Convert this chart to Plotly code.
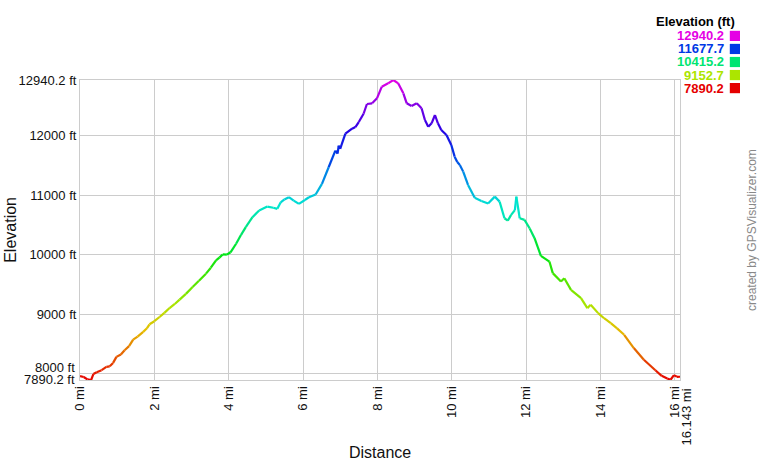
import colorsys
import plotly.graph_objs as go
from plotly.colors import sample_colorscale

# === DATA
dist_mi = [0, 0.1, 0.2, 0.3, 0.36, 0.45, 0.58, 0.71, 0.8, 0.89,
           0.98, 1.1, 1.2, 1.32, 1.43, 1.55, 1.7, 1.8, 1.87, 2.0,
           2.14, 2.27, 2.41, 2.55, 2.68, 2.85, 3.03, 3.2, 3.39, 3.52,
           3.66, 3.75, 3.84, 3.95, 4.05, 4.2, 4.33, 4.46, 4.64, 4.82,
           5.04, 5.2, 5.31, 5.4, 5.5, 5.62, 5.75, 5.89, 6.05, 6.16,
           6.34, 6.51, 6.69, 6.87, 6.93, 6.96, 7.0, 7.14, 7.32, 7.41,
           7.5, 7.63, 7.72, 7.86, 7.99, 8.12, 8.29, 8.43, 8.56, 8.7,
           8.79, 8.92, 9.06, 9.19, 9.28, 9.37, 9.46, 9.55, 9.63, 9.72,
           9.86, 9.99, 10.08, 10.15, 10.22, 10.31, 10.44, 10.62, 10.8, 10.98,
           11.16, 11.29, 11.42, 11.51, 11.6, 11.7, 11.74, 11.83, 11.96, 12.1,
           12.23, 12.4, 12.63, 12.72, 12.94, 13.03, 13.21, 13.48, 13.65, 13.74,
           13.94, 14.1, 14.28, 14.45, 14.64, 14.9, 15.17, 15.48, 15.65, 15.8,
           15.89, 15.98, 16.06, 16.143]
elev_ft = [7955, 7940, 7900, 7890.2, 7990, 8020, 8055, 8111, 8120, 8178,
           8279, 8320, 8391, 8460, 8570, 8620, 8700, 8760, 8828, 8880,
           8951, 9020, 9102, 9170, 9243, 9340, 9455, 9560, 9680, 9780,
           9903, 9950, 10004, 10000, 10040, 10184, 10330, 10463, 10631, 10743,
           10810, 10790, 10771, 10882, 10930, 10967, 10910, 10855, 10920, 10967,
           11012, 11191, 11471, 11752, 11700, 11836, 11780, 12036, 12120, 12148,
           12232, 12372, 12536, 12548, 12632, 12828, 12884, 12940.2, 12884, 12716,
           12548, 12503, 12548, 12464, 12267, 12154, 12211, 12351, 12211, 12099,
           12015, 11846, 11650, 11560, 11510, 11398, 11173, 10960, 10905, 10860,
           10977, 10893, 10613, 10574, 10669, 10750, 10977, 10613, 10585, 10440,
           10277, 9980, 9884, 9689, 9548, 9604, 9408, 9268, 9100, 9156,
           9016, 8930, 8848, 8760, 8651, 8428, 8231, 8055, 7960, 7916,
           7895, 7972, 7944, 7945]

y_ticks = [7890.2, 8000, 9000, 10000, 11000, 12000, 12940.2]
y_labels = ["7890.2 ft", "8000 ft", "9000 ft", "10000 ft", "11000 ft", "12000 ft", "12940.2 ft"]
x_ticks = [0, 2, 4, 6, 8, 10, 12, 14, 16, 16.143]
x_labels = ["0 mi", "2 mi", "4 mi", "6 mi", "8 mi", "10 mi", "12 mi", "14 mi", "16 mi", "16.143 mi"]
legend_vals = [12940.2, 11677.7, 10415.2, 9152.7, 7890.2]

E_MIN, E_MAX = min(elev_ft), max(elev_ft)
FONT = "Arial, Liberation Sans, sans-serif"

# rainbow scale: red (low) -> magenta (high), hue 0..300
scale = []
for i in range(13):
    r, g, b = colorsys.hsv_to_rgb(i / 12 * 300 / 360, 1, 0.9)
    scale.append([i / 12, f"rgb({int(r*255)},{int(g*255)},{int(b*255)})"])


def col(e):
    return sample_colorscale(scale, [(e - E_MIN) / (E_MAX - E_MIN)])[0]


fig = go.Figure()
for i in range(len(dist_mi) - 1):
    fig.add_trace(go.Scatter(x=dist_mi[i:i + 2], y=elev_ft[i:i + 2], mode="lines",
                             line=dict(color=col((elev_ft[i] + elev_ft[i + 1]) / 2), width=2.2),
                             showlegend=False, hoverinfo="skip", cliponaxis=False))

# crowded end labels: the axis keeps the gridlines, the labels get nudged apart
y_text = [t if v not in (y_ticks[0], y_ticks[1]) else "" for v, t in zip(y_ticks, y_labels)]
x_text = x_labels[:-1] + [""]
for v, t, dy in [(y_ticks[0], y_labels[0], 1), (y_ticks[1], y_labels[1], 5.5)]:
    fig.add_annotation(text=t, xref="paper", yref="y", x=0, y=v, xanchor="right", yanchor="middle",
                       xshift=-3, yshift=dy, showarrow=False, font=dict(family=FONT, size=13, color="#111"))
fig.add_annotation(text=x_labels[-1], xref="x", yref="paper", x=x_ticks[-1], y=0, textangle=-90,
                   xanchor="center", yanchor="top", xshift=6, yshift=-7,
                   showarrow=False, font=dict(family=FONT, size=13, color="#111"))

# === LEGEND (annotations + squares)
fig.add_annotation(text="<b>Elevation (ft)</b>", xref="paper", yref="paper", x=1.095, y=1.195,
                   xanchor="right", yanchor="middle", showarrow=False, font=dict(family=FONT, size=13, color="black"))
for k, v in enumerate(legend_vals):
    yp = 1.147 - k * 0.0435
    c = col(v)
    fig.add_annotation(text=f"<b>{v}</b>", xref="paper", yref="paper", x=1.077, y=yp,
                       xanchor="right", yanchor="middle", showarrow=False, font=dict(family=FONT, size=13, color=c))
    fig.add_shape(type="rect", xref="paper", yref="paper", x0=1.083, x1=1.1, y0=yp - 0.017, y1=yp + 0.017,
                  fillcolor=c, line=dict(width=0))

# axis titles + watermark
fig.add_annotation(text="Elevation", xref="paper", yref="paper", x=-0.117, y=0.5, textangle=-90,
                   xanchor="center", yanchor="middle",
                   showarrow=False, font=dict(family=FONT, size=16, color="#111"))
fig.add_annotation(text="Distance", xref="paper", yref="paper", x=0.5, y=-0.24,
                   xanchor="center", yanchor="middle",
                   showarrow=False, font=dict(family=FONT, size=16, color="#111"))
fig.add_annotation(text="created by GPSVisualizer.com", xref="paper", yref="paper", x=1.12, y=0.5, textangle=-90,
                   xanchor="center", yanchor="middle",
                   showarrow=False, font=dict(family=FONT, size=12, color="#888"))

fig.update_layout(
    width=760, height=460, margin=dict(l=80, r=80, t=80, b=80),
    paper_bgcolor="white", plot_bgcolor="white", font=dict(family=FONT, size=13, color="#111"),
    xaxis=dict(range=[0, 16.143], tickvals=x_ticks, ticktext=x_text, tickangle=-90,
               showgrid=True, gridcolor="#cccccc", gridwidth=1, zeroline=False,
               showline=True, linecolor="#cccccc", mirror=True, ticks="", automargin=False),
    yaxis=dict(range=[E_MIN, E_MAX], tickvals=y_ticks, ticktext=y_text,
               showgrid=True, gridcolor="#cccccc", gridwidth=1, zeroline=False,
               showline=True, linecolor="#cccccc", mirror=True, ticks="", automargin=False),
)

# drop the default 8px page margin so the figure sits at the window's corner
fig.write_html("out.html", config={"displayModeBar": False},
               post_script="document.body.style.margin='0px';")
